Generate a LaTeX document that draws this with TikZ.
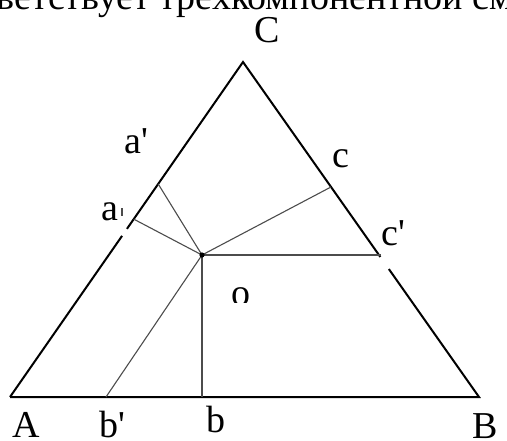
\documentclass[tikz,border=0pt]{standalone}
\usepackage{fontspec}
\setmainfont{Liberation Serif}
\usetikzlibrary{calc}
\begin{document}
\begin{tikzpicture}[x=.5pt,y=-.5pt,
 side/.style={line width=1pt,black,line join=miter},
 proj/.style={line width=.55pt,black!70},
 lab/.style={inner sep=0pt,anchor=base west,font=\fontsize{19}{22}\selectfont}]
\useasboundingbox (0,0) rectangle (507,440);
\clip (0,0) rectangle (507,440);
% corners and point
\coordinate (A) at (10,397);
\coordinate (B) at (479,397);
\coordinate (C) at (243,62);
\coordinate (O) at (202,255);
% feet on the sides
\coordinate (a) at ($(A)!.531!(C)$);
\coordinate (ap) at ($(A)!.636!(C)$);
\coordinate (c) at ($(C)!.373!(B)$);
\coordinate (cp) at (381,255);
\coordinate (b) at (202,397);
\coordinate (bp) at (106,397);
% breaks in the sides
\coordinate (l1) at ($(A)!.481!(C)$);
\coordinate (l2) at ($(A)!.502!(C)$);
\coordinate (r1) at ($(C)!.582!(B)$);
\coordinate (r2) at ($(C)!.618!(B)$);
\draw[side] (A) -- (l1);
\draw[side] (l2) -- (C) -- (r1);
\draw[side] (r2) -- (B) -- (A);
\draw[proj] (122,208) -- (122,216);
\foreach \p in {a,ap,c,cp,b,bp} \draw[proj] (O) -- (\p);
\fill (O) circle[radius=1.3pt];
% labels
\node[lab] (top) at (-4,9) {ветствует трехкомпонентной см};
\node[lab] (lC) at (254,42) {C};
\node[lab] (lap) at (124,153) {a\textquotesingle};
\node[lab] (la) at (101,220) {a};
\node[lab] (lc) at (332,167) {c};
\node[lab] (lcp) at (381,245) {c\textquotesingle};
\node[lab] (lA) at (12,437) {A};
\node[lab] (lbp) at (99,437) {b\textquotesingle};
\node[lab] (lb) at (206,432) {b};
\node[lab] (lB) at (472,438) {B};
\begin{scope}
\clip (225,280) rectangle (255,302);
\node[lab] (lO) at (231,305) {o};
\end{scope}
\end{tikzpicture}
\end{document}
